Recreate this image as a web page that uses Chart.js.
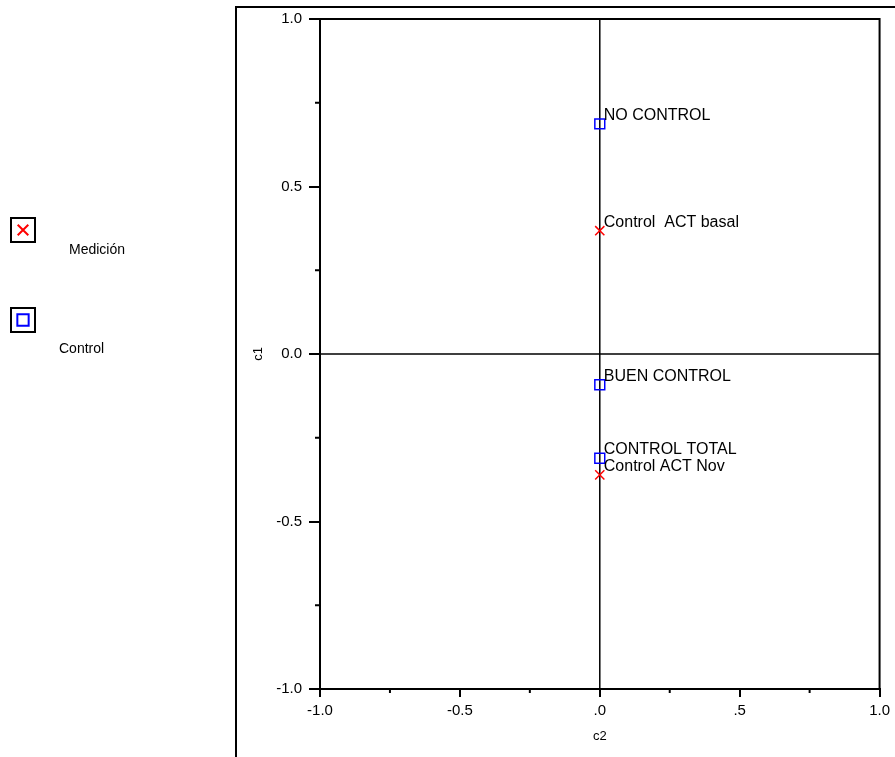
<!DOCTYPE html>
<html>
<head>
<meta charset="utf-8">
<script src="https://cdn.jsdelivr.net/npm/chart.js@4/dist/chart.umd.min.js"></script>
<style>
body{margin:0;background:#fff;}
#wrap{width:895px;height:757px;}
</style>
</head>
<body>
<div id="wrap"><canvas id="myChart" width="895" height="757"></canvas></div>
<script>
// points of the two series (x = c2, y = c1)
const medicionNames = ['Control  ACT basal', 'Control ACT Nov'];
const medicionX = [0.0, 0.0];
const medicionY = [0.368, -0.361];

const controlNames = ['NO CONTROL', 'BUEN CONTROL', 'CONTROL TOTAL'];
const controlX = [0.0, 0.0, 0.0];
const controlY = [0.687, -0.092, -0.311];

const legendNames = ['Medición', 'Control'];
const xTickLabels = ['-1.0', '-0.5', '.0', '.5', '1.0'];
const yTickLabels = ['-1.0', '-0.5', '0.0', '0.5', '1.0'];
const minorTicks = [-0.75, -0.25, 0.25, 0.75];

Chart.defaults.font.family = '"Liberation Sans", Arial, sans-serif';
Chart.defaults.color = '#000';

function toPoints(xs, ys){
  let pts = [];
  for(let i = 0; i < xs.length; i++){
    pts.push({x: xs[i], y: ys[i]});
  }
  return pts;
}

// frame, reference lines, minor ticks, point labels and the side legend
const decor = {
  id: 'decor',
  beforeDatasetsDraw(chart){
    const ctx = chart.ctx;
    const a = chart.chartArea;
    const xs = chart.scales.x, ys = chart.scales.y;
    ctx.save();
    ctx.strokeStyle = '#000';
    ctx.lineWidth = 1.5;
    ctx.beginPath();
    ctx.moveTo(xs.getPixelForValue(0), a.top);
    ctx.lineTo(xs.getPixelForValue(0), a.bottom);
    ctx.moveTo(a.left, ys.getPixelForValue(0));
    ctx.lineTo(a.right, ys.getPixelForValue(0));
    ctx.stroke();
    ctx.restore();
  },
  afterDraw(chart){
    const ctx = chart.ctx;
    const a = chart.chartArea;
    const xs = chart.scales.x, ys = chart.scales.y;
    ctx.save();
    ctx.strokeStyle = '#000';
    ctx.lineWidth = 2;
    // top and right sides of the plot box
    ctx.beginPath();
    ctx.moveTo(a.left, a.top);
    ctx.lineTo(a.right, a.top);
    ctx.lineTo(a.right, a.bottom);
    ctx.stroke();
    // outer frame
    ctx.beginPath();
    ctx.moveTo(236, 757);
    ctx.lineTo(236, 7);
    ctx.lineTo(895, 7);
    ctx.stroke();
    // minor ticks
    ctx.beginPath();
    minorTicks.forEach(v => {
      let px = xs.getPixelForValue(v);
      ctx.moveTo(px, a.bottom);
      ctx.lineTo(px, a.bottom + 4);
      let py = ys.getPixelForValue(v);
      ctx.moveTo(a.left, py);
      ctx.lineTo(a.left - 5, py);
    });
    ctx.stroke();

    // point labels
    ctx.font = '16px "Liberation Sans", Arial, sans-serif';
    ctx.fillStyle = '#000';
    ctx.textAlign = 'left';
    ctx.textBaseline = 'alphabetic';
    const names = [medicionNames, controlNames];
    chart.data.datasets.forEach((ds, di) => {
      ds.data.forEach((p, i) => {
        ctx.fillText(names[di][i], xs.getPixelForValue(p.x) + 4, ys.getPixelForValue(p.y) - 4);
      });
    });

    // legend on the left
    const boxes = [{y: 218, tx: 69, ty: 250}, {y: 308, tx: 59, ty: 349}];
    ctx.font = '14px "Liberation Sans", Arial, sans-serif';
    ctx.textBaseline = 'middle';
    chart.data.datasets.forEach((ds, di) => {
      const b = boxes[di];
      ctx.strokeStyle = '#000';
      ctx.lineWidth = 2;
      ctx.strokeRect(11, b.y, 24, 24);
      ctx.fillStyle = ds.backgroundColor;
      ctx.strokeStyle = ds.borderColor;
      ctx.lineWidth = 2;
      Chart.helpers.drawPoint(ctx, {
        pointStyle: ds.pointStyle,
        radius: ds.pointRadius + 1,
        borderWidth: 2,
        rotation: 0
      }, 23, b.y + 12);
      ctx.fillStyle = '#000';
      ctx.fillText(legendNames[di], b.tx, b.ty);
    });
    ctx.restore();
  }
};

const myChart = document.getElementById('myChart').getContext('2d');
const chart = new Chart(myChart, {
  type: 'scatter',
  data: {
    datasets: [{
      label: legendNames[0],
      data: toPoints(medicionX, medicionY),
      pointStyle: 'crossRot',
      pointRadius: 6.5,
      borderColor: '#ff0000',
      backgroundColor: 'rgba(0,0,0,0)',
      borderWidth: 1.5
    }, {
      label: legendNames[1],
      data: toPoints(controlX, controlY),
      pointStyle: 'rect',
      pointRadius: 7,
      borderColor: '#0000ff',
      backgroundColor: 'rgba(0,0,0,0)',
      borderWidth: 1.5
    }]
  },
  options: {
    responsive: false,
    animation: false,
    layout: {padding: {left: 240, right: 15, top: 19, bottom: 0}},
    plugins: {legend: {display: false}, tooltip: {enabled: false}},
    scales: {
      x: {
        type: 'linear',
        min: -1, max: 1,
        afterFit(scale){ scale.height = 68; },
        border: {display: true, color: '#000', width: 2},
        grid: {drawOnChartArea: false, drawTicks: true, tickLength: 8, color: '#000', lineWidth: 2},
        ticks: {
          stepSize: 0.5,
          padding: 5,
          font: {size: 15},
          callback: (v, i) => xTickLabels[i]
        },
        title: {display: true, text: 'c2', font: {size: 13}, padding: {top: 4, bottom: 13}}
      },
      y: {
        type: 'linear',
        min: -1, max: 1,
        afterFit(scale){ scale.width = 80; },
        border: {display: true, color: '#000', width: 2},
        grid: {drawOnChartArea: false, drawTicks: true, tickLength: 11, color: '#000', lineWidth: 2},
        ticks: {
          stepSize: 0.5,
          padding: 7,
          font: {size: 15},
          callback: (v, i) => yTickLabels[i]
        },
        title: {display: true, text: 'c1', font: {size: 13}, padding: {top: 11, bottom: 4}}
      }
    }
  },
  plugins: [decor]
});
</script>
</body>
</html>
